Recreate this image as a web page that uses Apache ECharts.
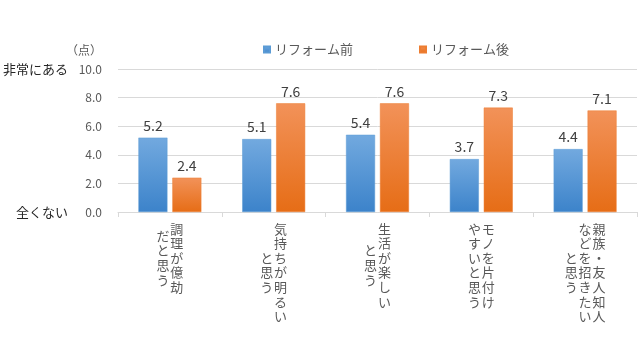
<!DOCTYPE html>
<html><head><meta charset="utf-8">
<script src="https://cdn.jsdelivr.net/npm/echarts@6/dist/echarts.min.js"></script>
<style>html,body{margin:0;padding:0;background:#fff}#c{width:640px;height:360px}</style>
</head><body><div id="c"></div>
<script>
// columns of each category label, right-to-left (vertical writing)
var categories = ['調理が億劫\nだと思う', '気持ちが明るい\nと思う', '生活が楽しい\nと思う', 'モノを片付け\nやすいと思う', '親族・友人知人\nなどを招きたい\nと思う'];
var seriesNames = ['リフォーム前', 'リフォーム後'];
var before = [5.2, 5.1, 5.4, 3.7, 4.4];
var after = [2.4, 7.6, 7.6, 7.3, 7.1];
var yTop = '非常にある';
var yBottom = '全くない';
var unit = '（点）';

var FONT = '"Noto Sans CJK JP", "Noto Sans", sans-serif';
var TXT = '#595959';

function verticalLabel(s) {
  var cols = s.split('\n').map(function (c) { return Array.from(c); });
  var M = 0;
  cols.forEach(function (c) { if (c.length > M) M = c.length; });
  var lines = [];
  for (var h = 0; h < 2 * M; h++) {
    var parts = [];
    for (var ci = cols.length - 1; ci >= 0; ci--) {
      var col = cols[ci];
      var start = M - col.length;
      var d = h - start;
      if (d >= 0 && d % 2 === 0 && d / 2 < col.length) parts.push(col[d / 2]);
      else parts.push('\u3000');
    }
    lines.push(parts.join('\u200A'));
  }
  return lines.join('\n');
}

var chart = echarts.init(document.getElementById('c'), null, {renderer: 'canvas'});
chart.setOption({
  animation: false,
  textStyle: {fontFamily: FONT},
  legend: {
    data: seriesNames,
    left: 258, top: 38,
    icon: 'rect', itemWidth: 6, itemHeight: 6, itemGap: 66,
    textStyle: {color: TXT, fontSize: 13, fontFamily: FONT}
  },
  grid: {left: 113, right: 3, top: 69, bottom: 148, containLabel: false},
  xAxis: {
    type: 'category',
    data: categories,
    axisLine: {lineStyle: {color: '#d9d9d9'}},
    axisTick: {show: true, length: 5, lineStyle: {color: '#d9d9d9'}},
    axisLabel: {
      interval: 0, margin: 13, color: TXT, fontSize: 13, lineHeight: 7.3,
      verticalAlign: 'top', fontFamily: FONT,
      formatter: function (v) { return verticalLabel(v); }
    }
  },
  yAxis: {
    type: 'value', min: 0, max: 10, interval: 2,
    name: unit, nameLocation: 'end', nameGap: 13,
    nameTextStyle: {color: TXT, fontSize: 12, align: 'right', padding: [0, 16, 0, 0], fontFamily: FONT},
    axisLine: {show: false}, axisTick: {show: false},
    splitLine: {lineStyle: {color: '#d9d9d9'}},
    axisLabel: {
      margin: 16, color: TXT, fontSize: 12, fontFamily: FONT,
      formatter: function (v) {
        var s = v.toFixed(1);
        if (v === 10) return '{a|' + yTop + '}{v|' + s + '}';
        if (v === 0) return '{a|' + yBottom + '}{v|' + s + '}';
        return '{v|' + s + '}';
      },
      rich: {
        a: {color: '#262626', fontSize: 13, fontFamily: FONT, padding: [0, 10, 0, 0]},
        v: {color: TXT, fontSize: 12, fontFamily: FONT, width: 24, align: 'right'}
      }
    }
  },
  series: [
    {
      name: seriesNames[0], type: 'bar', data: before, barWidth: 29, barGap: '17%',
      itemStyle: {color: new echarts.graphic.LinearGradient(0, 0, 0, 1, [
        {offset: 0, color: '#72a9df'}, {offset: 1, color: '#3c83ca'}]),
        borderColor: '#5b9bd5', borderWidth: 0.5},
      label: {show: true, position: 'top', distance: 5, color: '#404040', fontSize: 14, fontFamily: FONT,
        formatter: function (p) { return p.value.toFixed(1); }}
    },
    {
      name: seriesNames[1], type: 'bar', data: after, barWidth: 29,
      itemStyle: {color: new echarts.graphic.LinearGradient(0, 0, 0, 1, [
        {offset: 0, color: '#f29259'}, {offset: 1, color: '#e66d16'}]),
        borderColor: '#ed7d31', borderWidth: 0.5},
      label: {show: true, position: 'top', distance: 5, color: '#404040', fontSize: 14, fontFamily: FONT,
        formatter: function (p) { return p.value.toFixed(1); }}
    }
  ]
});
</script></body></html>
